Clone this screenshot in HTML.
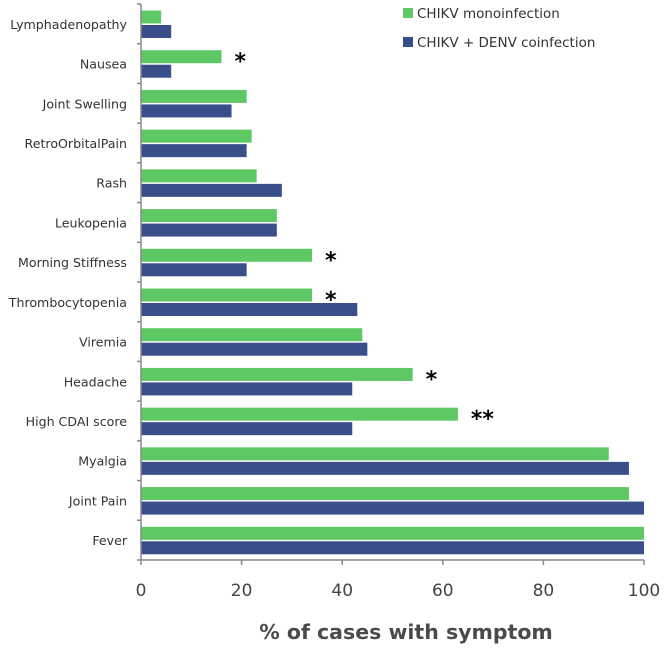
<!DOCTYPE html>
<html><head><meta charset="utf-8"><style>
body{margin:0;background:#fff;}
svg text{font-family:"DejaVu Sans","Liberation Sans",sans-serif;}
</style></head><body>
<svg id="chart" width="669" height="651" viewBox="0 0 669 651" xmlns="http://www.w3.org/2000/svg">
<g id="bars"></g>
<g id="axes"></g>
<g>
 <rect x="403" y="8" width="10" height="10" fill="#5ec865"/>
 <text x="417" y="18" font-size="13.5" fill="#333">CHIKV monoinfection</text>
 <rect x="403" y="37" width="10" height="10" fill="#3a4f8a"/>
 <text x="417" y="47" font-size="13.5" fill="#333">CHIKV + DENV coinfection</text>
</g>
<text x="406" y="639" font-size="20.5" font-weight="bold" fill="#4a4a4a" text-anchor="middle">% of cases with symptom</text>
</svg>
<script>
const categories=["Lymphadenopathy","Nausea","Joint Swelling","RetroOrbitalPain","Rash","Leukopenia","Morning Stiffness","Thrombocytopenia","Viremia","Headache","High CDAI score","Myalgia","Joint Pain","Fever"];
const monoValues=[4,16,21,22,23,27,34,34,44,54,63,93,97,100];
const coValues=[6,6,18,21,28,27,21,43,45,42,42,97,100,100];
const significance=["","*","","","","","*","*","","*","**","","",""];
const xTicks=[0,20,40,60,80,100];
const NS="http://www.w3.org/2000/svg";
const X0=141,X1=644,PTOP=4,PBOT=560;
const band=(PBOT-PTOP)/categories.length;
const xs=v=>X0+(X1-X0)*v/100;
const bars=document.getElementById('bars'),axes=document.getElementById('axes');
function mk(tag,attrs,parent){const e=document.createElementNS(NS,tag);for(const k in attrs)e.setAttribute(k,attrs[k]);parent.appendChild(e);return e;}
categories.forEach((c,i)=>{
 const y=PTOP+i*band;
 const g=mk('rect',{x:X0,y:y+6.5,width:xs(monoValues[i])-X0,height:13,fill:'#5ec865'},bars);
 
 
 const b=mk('rect',{x:X0,y:y+21,width:xs(coValues[i])-X0,height:13,fill:'#3a4f8a'},bars);
 
 
 const t=mk('text',{x:127,y:y+band/2+5,'font-size':12.6,fill:'#333','text-anchor':'end'},axes);
 t.textContent=c;
 
 
 if(significance[i]){
  const s=mk('text',{x:xs(monoValues[i])+13,y:y+25,'font-size':22,'font-weight':'bold',fill:'#000'},axes);
  s.textContent=significance[i];
  
  
 }
 const tk=mk('line',{x1:X0-4,x2:X0,y1:y,y2:y,stroke:'#888','stroke-width':1.5},axes);
 
 
});
const yl=mk('line',{x1:X0,x2:X0,y1:PTOP,y2:PBOT,stroke:'#888','stroke-width':1.5},axes);


const xl=mk('line',{x1:X0-4,x2:X1,y1:PBOT,y2:PBOT,stroke:'#888','stroke-width':1.5},axes);


xTicks.forEach(v=>{
 const l=mk('line',{x1:xs(v),x2:xs(v),y1:PBOT,y2:PBOT+5,stroke:'#888','stroke-width':1.5},axes);
 
 
 const t=mk('text',{x:xs(v),y:596,'font-size':17,fill:'#444','text-anchor':'middle'},axes);
 t.textContent=v;
 
 
});
</script>
</body></html>
